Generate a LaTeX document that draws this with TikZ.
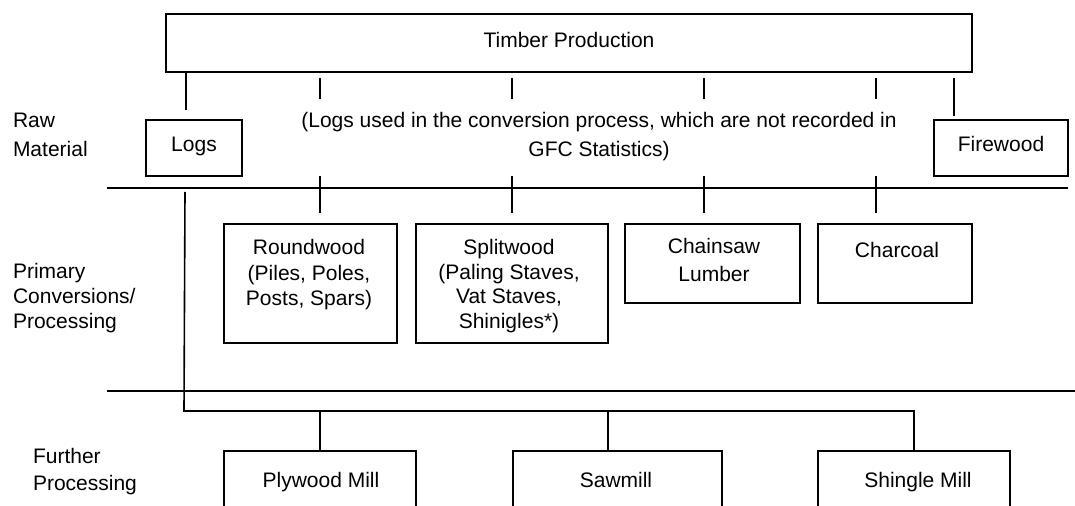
\documentclass[tikz,border=0pt]{standalone}
\usepackage{fontspec}
\setmainfont{Liberation Sans}
\newcommand{\fs}[1]{\fontsize{21bp}{#1}\selectfont}
\begin{document}
\begin{tikzpicture}[x=1bp,y=-1bp,
  line width=1.8bp,
  every node/.style={font=\fs{25bp}, inner sep=0pt, outer sep=0pt},
  box/.style={draw, line width=1.8bp, anchor=north west},
  txt/.style={anchor=north, align=center},
  lbl/.style={anchor=north west, align=left},
  sep/.style={line width=1.8bp},
  link/.style={line width=1.8bp},
  bus/.style={line width=1.6bp},
  ]
\clip (0,0) rectangle (1075,506);

% ---- boxes ----
\node[box, minimum width=806bp, minimum height=58bp] (top) at (166,14) {};
\node[box, minimum width=96bp,  minimum height=56bp] (logs) at (146,120) {};
\node[box, minimum width=134bp, minimum height=56bp] (fire) at (934,120) {};
\node[box, minimum width=173bp, minimum height=119bp] (round) at (224,224) {};
\node[box, minimum width=192bp, minimum height=119bp] (split) at (416,224) {};
\node[box, minimum width=175bp, minimum height=79bp] (chain) at (625,224) {};
\node[box, minimum width=154bp, minimum height=79bp] (charc) at (818,224) {};
\node[box, minimum width=192bp, minimum height=90bp] (ply) at (224,451) {};
\node[box, minimum width=209bp, minimum height=90bp] (saw) at (513,451) {};
\node[box, minimum width=192bp, minimum height=90bp] (shin) at (818,451) {};

% ---- texts ----
\node[anchor=base] (top-t) at (569,48) {Timber Production};
\node[anchor=base] (logs-t) at (194,152) {Logs};
\node[anchor=base] (fire-t) at (1001,152) {Firewood};
\node[txt, font=\fs{28.5bp}] (note) at (599,112.7)
  {(Logs used in the conversion process, which are not recorded in\\GFC Statistics)};
\node[txt, font=\fs{25.5bp}] (round-t) at (309,239.7)
  {Roundwood\\(Piles, Poles,\\Posts, Spars)};
\node[txt, font=\fs{24.5bp}] (split-t) at (509,239.7)
  {Splitwood\\(Paling Staves,\\Vat Staves,\\Shinigles*)};
\node[txt, font=\fs{28bp}] (chain-t) at (714,238.7) {Chainsaw\\Lumber};
\node[anchor=base] (charc-t) at (897,258) {Charcoal};
\node[anchor=base] (ply-t) at (321,487) {Plywood Mill};
\node[anchor=base] (saw-t) at (616,487) {Sawmill};
\node[anchor=base] (shin-t) at (918,487) {Shingle Mill};

% ---- stage labels ----
\node[lbl, font=\fs{29bp}] (raw) at (13,112.7) {Raw\\Material};
\node[lbl, font=\fs{25bp}] (prim) at (13,263) {Primary\\Conversions/\\Processing};
\node[lbl, font=\fs{27bp}] (furth) at (33,448.7) {Further\\Processing};

% ---- stage separators ----
\coordinate (s1a) at (107,188);
\coordinate (s1b) at (1068,188);
\coordinate (s2a) at (107,391);
\coordinate (s2b) at (1075,391);
\draw[sep] (s1a) -- (s1b);
\draw[sep] (s2a) -- (s2b);

% ---- raw material links ----
\coordinate (logs-in) at (186,110);
\draw[link] (top.south -| logs-in) -- (logs-in);
\coordinate (fire-a) at (954,78);
\coordinate (fire-in) at (954,116);
\draw[link] (fire-a) -- (fire-in);

% short ticks above and across the first separator
\foreach \x/\n in {320/a,512/b,704/c,876/d}{
  \coordinate (up-\n) at (\x,78);
  \coordinate (um-\n) at (\x,99);
  \coordinate (lo-\n) at (\x,176);
  \coordinate (lm-\n) at (\x,213);
  \draw[link] (up-\n) -- (um-\n);
  \draw[link] (lo-\n) -- (lm-\n);
}

% ---- logs to further processing ----
\coordinate (feed) at (185,192);
\coordinate (corner) at (184,411);
\draw[bus] (feed) -- (corner) -- (corner -| shin.north) -- (shin.north);
\draw[link] (corner -| ply.north) -- (ply.north);
\coordinate (saw-in) at (608,451);
\draw[link] (corner -| saw-in) -- (saw-in);
\end{tikzpicture}
\end{document}
